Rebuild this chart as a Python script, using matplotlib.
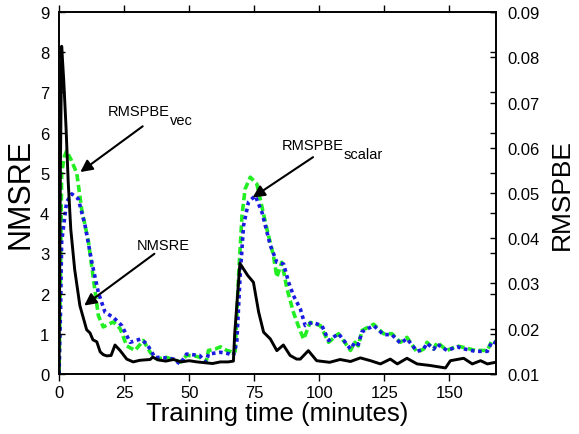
import matplotlib
matplotlib.use("Agg")
import matplotlib.pyplot as plt

plt.rcParams['font.family'] = ['Liberation Sans', 'DejaVu Sans']

# NMSRE (left axis)
nmsre_t = [0, 0.5, 1.0, 1.8, 2.7, 3.5, 4.5, 6, 8, 10.6, 11.9, 13, 14.5, 15.8, 17,
           18.3, 20, 21.5, 23.5, 26, 28.5, 31, 33, 35, 36, 38, 41, 44, 47, 50, 53,
           56, 59, 62, 65, 67, 67.5, 69.5, 71, 72.5, 74.7, 76.7, 78.6, 81.2, 83.7,
           86.2, 88.8, 91.3, 92.7, 95.8, 99, 104, 108, 112, 115.8, 119.7, 123.5,
           127.3, 130, 133.7, 137.6, 142.7, 148.5, 150.4, 155.5, 158.8, 162, 164.6,
           167.7]
nmsre = [0, 5.0, 8.15, 7.3, 6.1, 4.8, 3.6, 2.6, 1.7, 1.1, 1.02, 0.85, 0.8, 0.55, 0.48,
         0.45, 0.46, 0.72, 0.58, 0.37, 0.3, 0.34, 0.35, 0.36, 0.42, 0.35, 0.32, 0.36,
         0.3, 0.33, 0.3, 0.28, 0.26, 0.3, 0.3, 0.32, 1.0, 2.75, 2.6, 2.45, 2.28, 1.54,
         1.04, 0.87, 0.58, 0.72, 0.46, 0.37, 0.37, 0.58, 0.33, 0.29, 0.36, 0.31, 0.4,
         0.33, 0.25, 0.37, 0.25, 0.39, 0.25, 0.21, 0.15, 0.33, 0.39, 0.25, 0.33, 0.25,
         0.29]

# RMSPBE vec (right axis)
vec_t = [0, 0.5, 1.0, 2.0, 2.9, 4.5, 6.8, 8.7, 11.3, 13.2, 15.1, 17, 19, 20.9, 23.5,
         26, 29.2, 32.4, 35, 37.6, 41, 44, 46.5, 49, 52, 54, 56.5, 57.4, 60, 62, 64.5,
         67, 67.7, 69, 70.3, 71.5, 73.5, 76, 79.9, 82.4, 83.7, 85.6, 87.6, 90.1, 91.4,
         92.7, 94, 96.5, 100.4, 103.6, 107.4, 112, 113.7, 115, 116.4, 120.9, 124.7,
         127.9, 131.2, 133.7, 137.6, 140.1, 141.4, 144, 145.3, 149.1, 153, 156, 160,
         164.6, 166.4, 168]
vec = [0.010, 0.030, 0.0544, 0.058, 0.0593, 0.0575, 0.0544, 0.0464, 0.0392, 0.0310,
       0.0229, 0.0204, 0.0210, 0.0215, 0.0200, 0.0162, 0.0152, 0.0174, 0.0148, 0.0133,
       0.0137, 0.0132, 0.0126, 0.0141, 0.0140, 0.0137, 0.0126, 0.0152, 0.0155, 0.0160,
       0.0152, 0.0148, 0.0150, 0.0318, 0.0450, 0.0509, 0.0535, 0.0520, 0.0420, 0.0361,
       0.0314, 0.0347, 0.0288, 0.0236, 0.0215, 0.0195, 0.0177, 0.0214, 0.0207, 0.0170,
       0.0189, 0.0152, 0.0170, 0.0162, 0.0196, 0.0210, 0.0189, 0.0189, 0.0170, 0.0181,
       0.0148, 0.0155, 0.0170, 0.0155, 0.0170, 0.0152, 0.0162, 0.0158, 0.0152, 0.0152,
       0.0174, 0.0170]

# RMSPBE scalar (right axis)
sca_t = [0, 0.6, 1.0, 2.9, 4.9, 7.4, 10, 12.6, 15.1, 17.7, 20.9, 24.1, 27.3, 31.2,
         33.7, 36.9, 38.9, 44, 46.5, 49, 54, 56.5, 57.4, 62, 65, 67, 68.3, 69.6, 70.9,
         72.8, 75.4, 78, 81.2, 83.7, 86.3, 88.2, 90.1, 92.7, 94.6, 97.3, 101, 103.6,
         107.4, 112, 113.7, 115, 116.4, 120.9, 124.7, 127.9, 131.2, 133.7, 137.6,
         140.1, 141.4, 144, 145.3, 149.1, 153, 156, 160, 164.6, 166.4, 168]
sca = [0.010, 0.025, 0.0392, 0.0480, 0.0498, 0.0487, 0.0428, 0.0347, 0.0280, 0.0236,
       0.0225, 0.0207, 0.0170, 0.0177, 0.0167, 0.0136, 0.0137, 0.0133, 0.0122, 0.0144,
       0.0141, 0.0126, 0.0144, 0.0148, 0.0145, 0.0141, 0.0170, 0.0318, 0.0428, 0.0480,
       0.0494, 0.0457, 0.0384, 0.0347, 0.0343, 0.0303, 0.0273, 0.0244, 0.0207, 0.0214,
       0.0207, 0.0174, 0.0189, 0.0155, 0.0170, 0.0165, 0.0193, 0.0207, 0.0187, 0.0187,
       0.0168, 0.0178, 0.0150, 0.0155, 0.0168, 0.0155, 0.0166, 0.0152, 0.0160, 0.0155,
       0.0150, 0.0150, 0.0172, 0.0168]

x_ticks = [0, 25, 50, 75, 100, 125, 150]
left_ticks = list(range(10))
right_ticks = [0.01, 0.02, 0.03, 0.04, 0.05, 0.06, 0.07, 0.08, 0.09]

fig = plt.figure(figsize=(5.79, 4.35), dpi=100)
ax = fig.add_axes([0.102, 0.138, 0.755, 0.832])
ax2 = ax.twinx()

ax.plot(nmsre_t, nmsre, color='black', lw=2.1, zorder=3)
ax2.plot(vec_t, vec, color='#22ee22', lw=2.6, ls=(0, (2, 1)))
ax2.plot(sca_t, sca, color='#1a1ae0', lw=2.6, ls=(0, (1, 1)))

ax.set_zorder(2)
ax.patch.set_visible(False)

ax.set_xlim(0, 168)
ax.set_ylim(0, 9)
ax2.set_ylim(0.01, 0.09)
ax.set_xticks(x_ticks)
ax.set_yticks(left_ticks)
ax2.set_yticks(right_ticks)
ax2.set_yticklabels(['%.2f' % v for v in right_ticks])

ax.tick_params(axis='x', direction='out', top=True, length=5, width=1,
               labelsize=12, pad=3)
ax.tick_params(axis='y', direction='in', right=True, length=4, width=1,
               labelsize=12, pad=7)
ax2.tick_params(axis='y', direction='in', length=4, width=1, labelsize=12, pad=8)

for a in (ax, ax2):
    for s in a.spines.values():
        s.set_linewidth(1.2)

ax.set_xlabel('Training time (minutes)', fontsize=18.5, labelpad=1)
ax.set_ylabel('NMSRE', fontsize=22, labelpad=3)
ax2.set_ylabel('RMSPBE', fontsize=19, labelpad=7)

arrow = dict(arrowstyle='-|>', color='black', lw=1.5, mutation_scale=18)


def label(text, sub, xy, fs=10.5):
    t = ax.text(xy[0], xy[1], text, fontsize=fs, ha='left', va='baseline')
    if sub:
        ax.annotate(sub, xy=(1, 0), xycoords=t, xytext=(0.3, -4.5),
                    textcoords='offset points', fontsize=fs, ha='left',
                    va='baseline')


label('RMSPBE', 'vec', (18.8, 6.45))
ax.annotate('', xy=(7.3, 4.98), xytext=(33, 6.2), arrowprops=arrow)
label('NMSRE', None, (30.0, 3.1))
ax.annotate('', xy=(8.8, 1.66), xytext=(37.5, 3.03), arrowprops=arrow)
label('RMSPBE', 'scalar', (85.5, 5.6))
ax.annotate('', xy=(73.5, 4.35), xytext=(98.5, 5.43), arrowprops=arrow)

fig.savefig('out.png', dpi=100)
